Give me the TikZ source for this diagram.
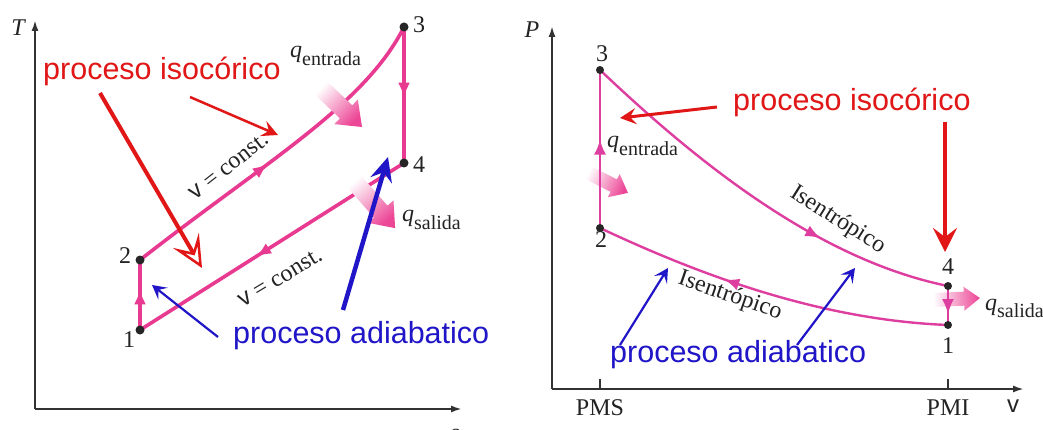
\documentclass[tikz,border=0pt]{standalone}
\usepackage{fontspec}
\setmainfont{Liberation Serif}
\setsansfont{Liberation Sans}
\usetikzlibrary{arrows.meta,decorations.markings}
\definecolor{pkL}{RGB}{232,58,145}
\definecolor{pkR}{RGB}{222,62,160}
\definecolor{pkfat}{RGB}{236,70,150}
\definecolor{redA}{RGB}{225,22,22}
\definecolor{blueA}{RGB}{32,22,200}
\definecolor{axisc}{RGB}{50,50,50}
\definecolor{txt}{RGB}{35,35,35}
\tikzset{
  axisline/.style={draw=axisc, line width=2pt, -{Latex[length=11pt,width=7pt]}},
  cycL/.style={draw=pkL, line width=3.6pt},
  cycR/.style={draw=pkR, line width=2.4pt},
  midarr/.style={postaction={decorate,decoration={markings,
     mark=at position #1 with {\arrow{Latex[length=15pt,width=12pt]}}}}},
  dot/.style={circle, fill=black!85, inner sep=0pt, minimum size=9pt},
  lab/.style={text=txt, font=\fontsize{24}{24}\selectfont, inner sep=0pt},
  bigtxt/.style={font=\sffamily\fontsize{30.5}{31}\selectfont, inner sep=0pt, anchor=base west},
  redtxt/.style={bigtxt, text=redA},
  bluetxt/.style={bigtxt, text=blueA},
  redthin/.style={draw=redA, line width=2.5pt, -{Stealth[length=16pt,width=16pt,inset=6pt]}},
  redbig/.style={draw=redA, line width=4pt, -{Stealth[open,length=32pt,width=30pt,inset=14pt,line width=2.5pt]}},
  redvert/.style={draw=redA, line width=4.5pt, -{Stealth[length=24pt,width=24pt,inset=9pt]}},
  bluethin/.style={draw=blueA, line width=2.2pt, -{Stealth[length=14pt,width=15pt,inset=6pt]}},
  bluethick/.style={draw=blueA, line width=4.5pt, -{Stealth[length=24pt,width=22pt,inset=8pt]}},
}
\newcommand\qlab[1]{\textit{q}\raisebox{-0.3em}{\fontsize{20}{20}\selectfont #1}}
\newcommand\fatpinkarrow[7]{%
  \pgfmathsetmacro\fpang{#3-90}%
  \begin{scope}[shift={(#1,#2)},rotate=#3]
    \shade[bottom color=white, top color=pkfat, shading angle=\fpang]
      (0,-#5) -- (#4-#7,-#5) -- (#4-#7,-#6) -- (#4,0) -- (#4-#7,#6) -- (#4-#7,#5) -- (0,#5) -- cycle;
  \end{scope}}
\begin{document}
\begin{tikzpicture}[x=1pt,y=-1pt]
\useasboundingbox[fill=white] (0,0) rectangle (1043,430);

% ---------------- left: T-s diagram ----------------
\coordinate (LO) at (35,409);
\coordinate (LT) at (35,20);
\coordinate (LS) at (462,409);
\draw[axisline] (LO) -- (LT);
\draw[axisline] (LO) -- (LS);
\node[lab, font=\itshape\fontsize{24}{24}\selectfont] (Tlab) at (18,28) {T};
\node[lab, font=\itshape\fontsize{24}{24}\selectfont] (slab) at (455,435) {s};

\coordinate (L1) at (140,330);
\coordinate (L2) at (140,260);
\coordinate (L3) at (404,27);
\coordinate (L4) at (404,163);
\draw[cycL, midarr=0.58] (L1) -- (L2);
\draw[cycL, midarr=0.45] (L2) .. controls (265,162) and (365,105) .. (L3);
\draw[cycL, midarr=0.52] (L3) -- (L4);
\draw[cycL, midarr=0.56] (L4) -- (L1);
\node[dot] (d1) at (L1) {};
\node[dot] (d2) at (L2) {};
\node[dot] (d3) at (L3) {};
\node[dot] (d4) at (L4) {};
\node[lab] (n1) at (129,340) {1};
\node[lab] (n2) at (125,256) {2};
\node[lab] (n3) at (419,25) {3};
\node[lab] (n4) at (419,165) {4};

\node[lab, rotate=38] (vc1) at (229,166) {{\sffamily v} = const.};
\node[lab, rotate=31] (vc2) at (280,278) {{\sffamily v} = const.};

\fatpinkarrow{320}{87}{-43.6}{58}{9}{17}{22}
\fatpinkarrow{353}{180}{-48.8}{64}{9}{17}{22}
\node[lab, anchor=base west] (qinL) at (290,58) {\qlab{entrada}};
\node[lab, anchor=base west] (qoutL) at (402,222) {\qlab{salida}};

\node[redtxt] (isoL) at (43,80) {proceso isocórico};
\coordinate (ra1) at (190,97);
\coordinate (ra1e) at (278,135);
\coordinate (ra2) at (100,93);
\coordinate (ra2e) at (202,268);
\draw[redthin] (ra1) -- (ra1e);
\draw[redbig] (ra2) -- (ra2e);

\node[bluetxt] (adiL) at (233,343) {proceso adiabatico};
\coordinate (ba1) at (218,337);
\coordinate (ba1e) at (152,285);
\coordinate (ba2) at (343,310);
\coordinate (ba2e) at (388,157);
\draw[bluethin] (ba1) -- (ba1e);
\draw[bluethick] (ba2) -- (ba2e);

% ---------------- right: P-v diagram ----------------
\coordinate (RO) at (552,389);
\coordinate (RP) at (552,26);
\coordinate (RV) at (1024,389);
\draw[axisline] (RO) -- (RP);
\draw[axisline] (RO) -- (RV);
\coordinate (tk1) at (600,389);
\coordinate (tk2) at (948,389);
\draw[axisc, line width=2pt] (tk1) -- ++(0,-10);
\draw[axisc, line width=2pt] (tk2) -- ++(0,-10);
\node[lab, font=\itshape\fontsize{24}{24}\selectfont] (Plab) at (532,30) {P};
\node[lab] (PMS) at (600,408) {PMS};
\node[lab] (PMI) at (948,408) {PMI};
\node[lab, font=\sffamily\fontsize{24}{24}\selectfont] (vlab) at (1013,406) {v};

\fatpinkarrow{587}{172}{-27}{46}{7}{13}{16}
\fatpinkarrow{933}{300}{2.4}{47}{7}{12}{16}

\coordinate (R1) at (948,325);
\coordinate (R2) at (600,228);
\coordinate (R3) at (600,70);
\coordinate (R4) at (948,286);
\draw[cycR, midarr=0.56] (R2) -- (R3);
\draw[cycR, midarr=0.67] (R3) .. controls (700,165) and (820,260) .. (R4);
\draw[cycR, midarr=0.72] (R4) -- (R1);
\draw[cycR, midarr=0.63] (R1) .. controls (820,320) and (700,275) .. (R2);
\node[dot, minimum size=8pt] (e1) at (R1) {};
\node[dot, minimum size=8pt] (e2) at (R2) {};
\node[dot, minimum size=8pt] (e3) at (R3) {};
\node[dot, minimum size=8pt] (e4) at (R4) {};
\node[lab] (m1) at (948,346) {1};
\node[lab] (m2) at (601,240) {2};
\node[lab] (m3) at (602,54) {3};
\node[lab] (m4) at (948,267) {4};

\node[lab, rotate=-32] (is1) at (838,220) {Isentrópico};
\node[lab, rotate=-19] (is2) at (730,296) {Isentrópico};

\node[lab, anchor=base west] (qinR) at (607,148) {\qlab{entrada}};
\node[lab, anchor=base west] (qoutR) at (985,310) {\qlab{salida}};

\node[redtxt] (isoR) at (733,111) {proceso isocórico};
\coordinate (rb1) at (717,107);
\coordinate (rb1e) at (620,118);
\coordinate (rb2) at (945,122);
\coordinate (rb2e) at (945,252);
\draw[redthin, line width=3pt] (rb1) -- (rb1e);
\draw[redvert] (rb2) -- (rb2e);

\node[bluetxt] (adiR) at (610,362) {proceso adiabatico};
\coordinate (bb1) at (620,345);
\coordinate (bb1e) at (668,268);
\coordinate (bb2) at (797,345);
\coordinate (bb2e) at (855,268);
\draw[bluethin] (bb1) -- (bb1e);
\draw[bluethin] (bb2) -- (bb2e);
\end{tikzpicture}
\end{document}
